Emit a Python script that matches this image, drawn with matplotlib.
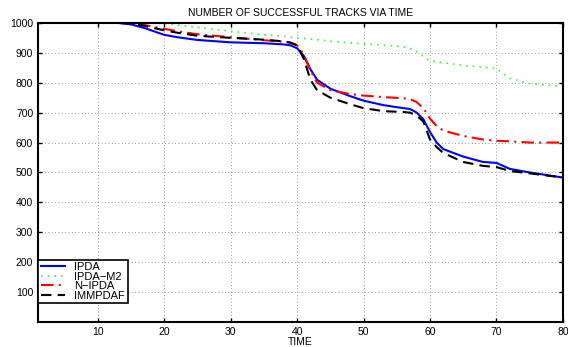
import matplotlib
matplotlib.use("Agg")
import matplotlib.pyplot as plt

plt.rcParams['font.family'] = ['Liberation Sans', 'DejaVu Sans']

t = [1, 13, 15, 17, 20, 22, 25, 30, 35, 38, 39, 40, 41, 42, 43, 45, 48, 50, 53, 56, 57, 58, 59, 60, 61, 62, 65, 68, 70, 72, 75, 80]

ipda = [1000, 1000, 995, 983, 960, 952, 943, 935, 932, 928, 925, 915, 890, 845, 810, 780, 755, 740, 725, 715, 712, 700, 678, 635, 600, 578, 553, 535, 532, 512, 500, 483]
ipda_m2 = [1000, 1000, 1000, 1000, 998, 993, 985, 972, 960, 955, 952, 950, 948, 946, 944, 939, 933, 930, 926, 920, 915, 903, 888, 873, 870, 867, 858, 852, 847, 815, 797, 787]
n_ipda = [1000, 1000, 999, 993, 980, 972, 962, 952, 942, 937, 934, 925, 895, 840, 800, 775, 762, 757, 752, 748, 745, 735, 715, 680, 655, 640, 622, 610, 606, 604, 600, 600]
immpdaf = [1000, 1000, 998, 990, 975, 967, 957, 950, 944, 938, 934, 925, 880, 810, 775, 750, 728, 715, 705, 702, 700, 690, 670, 610, 585, 565, 535, 522, 518, 505, 497, 483]

labels = ['IPDA', 'IPDA\u2212M2', 'N\u2212IPDA', 'IMMPDAF']
xticks = [10, 20, 30, 40, 50, 60, 70, 80]
yticks = [100, 200, 300, 400, 500, 600, 700, 800, 900, 1000]

fig = plt.figure(figsize=(5.68, 3.47), dpi=100)
ax = fig.add_axes([0.067, 0.072, 0.924, 0.862])

ax.plot(t, ipda, color='#0000ff', lw=1.5, ls='-', label=labels[0])
ax.plot(t, ipda_m2, color='#44ee44', lw=1.2, ls=(0, (1, 3)), label=labels[1])
ax.plot(t, n_ipda, color='#ff0000', lw=1.5, ls=(0, (6, 2.5, 1, 2.5)), label=labels[2])
ax.plot(t, immpdaf, color='black', lw=1.5, ls=(0, (5, 3)), label=labels[3])

ax.set_xlim(1, 80)
ax.set_ylim(0, 1000)
ax.set_xticks(xticks)
ax.set_yticks(yticks)
ax.tick_params(direction='in', top=True, right=True, labelsize=7.5, length=3, width=1)
ax.grid(True, color='#777777', ls=(0, (1, 3)), lw=0.6)
for s in ax.spines.values():
    s.set_linewidth(1.5)

ax.set_title('NUMBER OF SUCCESSFUL TRACKS VIA TIME', fontsize=7.5, pad=5)
ax.set_xlabel('TIME', fontsize=7.5, labelpad=0)

leg = ax.legend(loc='lower left', bbox_to_anchor=(0.0, 0.062), fontsize=8,
                frameon=True, fancybox=False, edgecolor='black', framealpha=1,
                borderpad=0.25, labelspacing=-0.05, handlelength=2.2,
                handletextpad=0.8, borderaxespad=0.0)
leg.get_frame().set_linewidth(1.2)

fig.savefig('out.png', dpi=100)
